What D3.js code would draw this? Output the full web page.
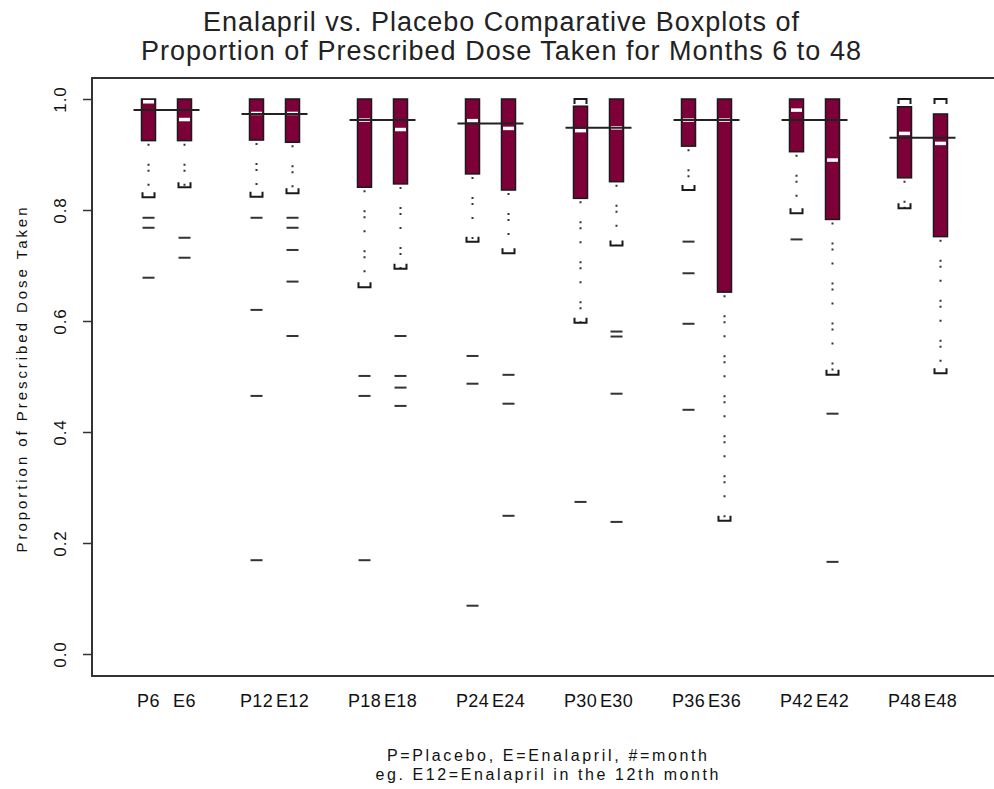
<!DOCTYPE html>
<html>
<head>
<meta charset="utf-8">
<script src="https://cdn.jsdelivr.net/npm/d3@7"></script>
<style>
  html, body { margin: 0; padding: 0; background: #fff; }
  svg { display: block; font-family: "Liberation Sans", Arial, sans-serif; }
</style>
</head>
<body>
<svg id="chart" width="994" height="789"></svg>
<script>
// Months observed and the two treatment arms
const months = [6, 12, 18, 24, 30, 36, 42, 48];
const arms = ["P", "E"];

// Placebo five-number summaries per month
const placeboLow  = [0.823, 0.824, 0.661, 0.743, 0.597, 0.836, 0.794, 0.803];
const placeboQ1   = [0.925, 0.926, 0.841, 0.865, 0.821, 0.915, 0.905, 0.858];
const placeboMed  = [0.995, 0.974, 0.962, 0.961, 0.943, 0.962, 0.980, 0.938];
const placeboQ3   = [1.000, 1.000, 1.000, 1.000, 0.987, 1.000, 1.000, 0.986];
const placeboHigh = [1.000, 1.000, 1.000, 1.000, 1.000, 1.000, 1.000, 1.000];
const placeboOut  = [
  [0.786, 0.768, 0.678],
  [0.786, 0.620, 0.465, 0.169],
  [0.501, 0.465, 0.169],
  [0.537, 0.487, 0.087],
  [0.274],
  [0.743, 0.686, 0.595, 0.440],
  [0.747],
  []
];

// Enalapril five-number summaries per month
const enalaprilLow  = [0.841, 0.830, 0.694, 0.722, 0.736, 0.240, 0.503, 0.506];
const enalaprilQ1   = [0.925, 0.922, 0.847, 0.836, 0.851, 0.652, 0.783, 0.752];
const enalaprilMed  = [0.963, 0.974, 0.945, 0.947, 0.948, 0.962, 0.890, 0.920];
const enalaprilQ3   = [1.000, 1.000, 1.000, 1.000, 1.000, 1.000, 1.000, 0.973];
const enalaprilHigh = [1.000, 1.000, 1.000, 1.000, 1.000, 1.000, 1.000, 1.000];
const enalaprilOut  = [
  [0.750, 0.714],
  [0.786, 0.768, 0.728, 0.671, 0.573],
  [0.573, 0.501, 0.480, 0.447],
  [0.503, 0.451, 0.249],
  [0.581, 0.572, 0.469, 0.238],
  [],
  [0.433, 0.166],
  []
];

// Pooled centre line drawn across each month's pair
const pairLine = [0.980, 0.973, 0.962, 0.956, 0.948, 0.962, 0.962, 0.930];

const yTicks = [0, 0.2, 0.4, 0.6, 0.8, 1.0];

const titleLines = [
  "Enalapril vs. Placebo Comparative Boxplots of",
  "Proportion of Prescribed Dose Taken for Months 6 to 48"
];
const yTitle = "Proportion of Prescribed Dose Taken";
const noteLines = [
  "P=Placebo, E=Enalapril, #=month",
  "eg. E12=Enalapril in the 12th month"
];

// Build one record per box
const boxes = [];
months.forEach((m, g) => {
  boxes.push({ label: "P" + m, pos: 3 * g + 1, low: placeboLow[g], q1: placeboQ1[g], med: placeboMed[g],
               q3: placeboQ3[g], high: placeboHigh[g], out: placeboOut[g] });
  boxes.push({ label: "E" + m, pos: 3 * g + 2, low: enalaprilLow[g], q1: enalaprilQ1[g], med: enalaprilMed[g],
               q3: enalaprilQ3[g], high: enalaprilHigh[g], out: enalaprilOut[g] });
});

const svg = d3.select("#chart");
const frame = { left: 92, right: 1000, top: 78, bottom: 676 };

const x = d3.scaleLinear().domain([1, 23]).range([148.5, 940.5]);
const y = d3.scaleLinear().domain([0, 1]).range([654, 99]);

const boxW = 14;
const fill = "#7d0039";
const ink = "#1a1a1a";

// Title
svg.append("g").selectAll("text").data(titleLines).join("text")
  .attr("x", 501).attr("y", (d, i) => 31 + i * 29)
  .attr("text-anchor", "middle")
  .attr("font-size", 27)
  .attr("textLength", (d, i) => i === 0 ? 596 : 720)
  .attr("lengthAdjust", "spacing")
  .attr("fill", "#222")
  .text(d => d);

// Plot frame (top, left, bottom)
svg.append("path")
  .attr("d", `M${frame.right},${frame.top}H${frame.left}V${frame.bottom}H${frame.right}`)
  .attr("fill", "none").attr("stroke", "#333").attr("stroke-width", 2);

// Y axis ticks and labels
const yAxis = d3.axisLeft(y).tickValues(yTicks).tickFormat(d3.format(".1f")).tickSize(9).tickPadding(0);
const ya = svg.append("g").attr("transform", `translate(${frame.left},0)`).call(yAxis);
ya.select(".domain").remove();
ya.selectAll(".tick line").attr("stroke", "#333").attr("stroke-width", 1.5);
ya.selectAll(".tick text")
  .attr("x", null).attr("dy", null)
  .attr("transform", "translate(-26,0) rotate(-90)")
  .attr("text-anchor", "middle")
  .attr("font-size", 17)
  .attr("letter-spacing", 1)
  .attr("font-family", "Liberation Sans, Arial, sans-serif")
  .attr("fill", "#111");

// Y axis title
svg.append("text")
  .attr("transform", "translate(27,380) rotate(-90)")
  .attr("text-anchor", "middle")
  .attr("font-size", 15)
  .attr("textLength", 345)
  .attr("lengthAdjust", "spacing")
  .attr("fill", "#111")
  .text(yTitle);

// X category labels under each box
svg.append("g").selectAll("text").data(boxes).join("text")
  .attr("x", d => x(d.pos)).attr("y", 707)
  .attr("text-anchor", "middle")
  .attr("font-size", 18)
  .attr("letter-spacing", 0.4)
  .attr("fill", "#111")
  .text(d => d.label);

// Footnote
svg.append("g").selectAll("text").data(noteLines).join("text")
  .attr("x", 547).attr("y", (d, i) => 761 + i * 19)
  .attr("text-anchor", "middle")
  .attr("font-size", 16)
  .attr("textLength", (d, i) => i === 0 ? 320 : 343)
  .attr("lengthAdjust", "spacing")
  .attr("fill", "#111")
  .text(d => d);

const plot = svg.append("g");

// Whiskers: dotted vertical runs from the box edges to the extremes
plot.append("g").selectAll("line").data(boxes.filter(d => d.low < d.q1)).join("line")
  .attr("x1", d => x(d.pos)).attr("x2", d => x(d.pos))
  .attr("y1", d => y(d.q1) + 3).attr("y2", d => y(d.low))
  .attr("stroke", "#333").attr("stroke-width", 2)
  .attr("stroke-dasharray", "2,18,2,4,2,12");

// Lower whisker end brackets
plot.append("g").selectAll("path").data(boxes.filter(d => d.low < d.q1)).join("path")
  .attr("d", d => {
    const cx = x(d.pos), yy = y(d.low);
    return `M${cx - 6},${yy - 5}V${yy}H${cx + 6}V${yy - 5}`;
  })
  .attr("fill", "none").attr("stroke", ink).attr("stroke-width", 2);

// Upper whisker end brackets where the box stops short of the maximum
plot.append("g").selectAll("path").data(boxes.filter(d => d.high > d.q3)).join("path")
  .attr("d", d => {
    const cx = x(d.pos), yy = y(d.high);
    return `M${cx - 6},${yy + 5}V${yy}H${cx + 6}V${yy + 5}`;
  })
  .attr("fill", "none").attr("stroke", ink).attr("stroke-width", 2);

// Boxes
plot.append("g").selectAll("rect").data(boxes).join("rect")
  .attr("x", d => x(d.pos) - boxW / 2)
  .attr("y", d => y(d.q3))
  .attr("width", boxW)
  .attr("height", d => y(d.q1) - y(d.q3))
  .attr("fill", fill)
  .attr("stroke", ink).attr("stroke-width", 1.5);

// Medians
plot.append("g").selectAll("line").data(boxes).join("line")
  .attr("x1", d => x(d.pos) - boxW / 2 + 1.5).attr("x2", d => x(d.pos) + boxW / 2 - 1.5)
  .attr("y1", d => y(d.med)).attr("y2", d => y(d.med))
  .attr("stroke", "#fff").attr("stroke-width", 3.5);

// Outliers as short dashes
const outs = boxes.flatMap(b => b.out.map(v => ({ pos: b.pos, v })));
plot.append("g").selectAll("line").data(outs).join("line")
  .attr("x1", d => x(d.pos) - 6).attr("x2", d => x(d.pos) + 6)
  .attr("y1", d => y(d.v)).attr("y2", d => y(d.v))
  .attr("stroke", "#333").attr("stroke-width", 2);

// Centre line across each month's pair
plot.append("g").selectAll("line").data(months.map((m, g) => ({ g, v: pairLine[g] }))).join("line")
  .attr("x1", d => x(3 * d.g + 1) - 15).attr("x2", d => x(3 * d.g + 2) + 15)
  .attr("y1", d => y(d.v)).attr("y2", d => y(d.v))
  .attr("stroke", "#222").attr("stroke-width", 2);
</script>
</body>
</html>
